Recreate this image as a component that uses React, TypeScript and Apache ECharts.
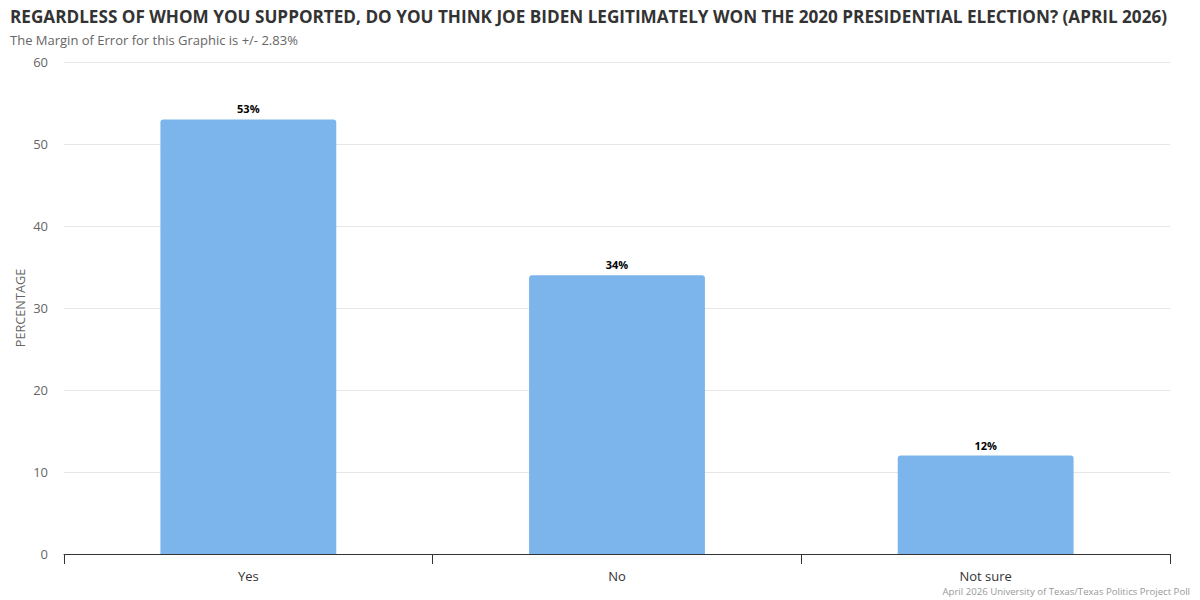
import React, { useEffect, useRef } from "react";
import * as echarts from "echarts";

const categories = ["Yes", "No", "Not sure"];
const values = [53, 34, 12];
const titleText = "REGARDLESS OF WHOM YOU SUPPORTED, DO YOU THINK JOE BIDEN LEGITIMATELY WON THE 2020 PRESIDENTIAL ELECTION? (APRIL 2026)";
const subtitleText = "The Margin of Error for this Graphic is +/- 2.83%";
const creditText = "April 2026 University of Texas/Texas Politics Project Poll";
const yAxisName = "PERCENTAGE";

const FONT = "'Open Sans', 'Noto Sans', sans-serif";

export default function App() {
  const ref = useRef<HTMLDivElement>(null);
  useEffect(() => {
    if (!ref.current) return;
    const chart = echarts.init(ref.current, undefined, { renderer: "svg" });
    chart.setOption({
      animation: false,
      backgroundColor: "#ffffff",
      textStyle: { fontFamily: FONT },
      title: [
        {
          text: titleText,
          subtext: subtitleText,
          left: 10,
          top: 8,
          padding: [0, 0, 0, 0],
          itemGap: 8,
          textStyle: { fontFamily: FONT, fontSize: 17.15, fontWeight: "bold", color: "#333333" },
          subtextStyle: { fontFamily: FONT, fontSize: 13, color: "#666666" },
        },
        {
          text: creditText,
          right: 10,
          bottom: 4,
          padding: [0, 0, 0, 0],
          textStyle: { fontFamily: FONT, fontSize: 9.6, fontWeight: "normal", color: "#999999" },
        },
      ],
      grid: { left: 64, right: 30, top: 62, bottom: 46, containLabel: false },
      xAxis: {
        type: "category",
        data: categories,
        axisLine: { lineStyle: { color: "#333333", width: 1 } },
        axisTick: { show: true, length: 10, lineStyle: { color: "#333333" } },
        axisLabel: { fontFamily: FONT, fontSize: 13, color: "#333333", margin: 15 },
      },
      yAxis: {
        type: "value",
        min: 0,
        max: 60,
        interval: 10,
        name: yAxisName,
        nameLocation: "middle",
        nameGap: 38,
        nameMoveOverlap: false,
        nameTextStyle: { fontFamily: FONT, fontSize: 12.7, color: "#666666" },
        axisLine: { show: false },
        axisTick: { show: false },
        axisLabel: { fontFamily: FONT, fontSize: 13, color: "#666666", margin: 16 },
        splitLine: { lineStyle: { color: "#e6e6e6", width: 1 } },
      },
      series: [
        {
          type: "bar",
          data: values,
          barWidth: "47.7%",
          itemStyle: { color: "#7cb5ec", borderRadius: [3, 3, 0, 0] },
          label: {
            show: true,
            position: "top",
            distance: 5,
            formatter: "{c}%",
            fontFamily: FONT,
            fontSize: 11,
            fontWeight: "bold",
            color: "#000000",
          },
        },
      ],
    });
    return () => chart.dispose();
  }, []);
  return (
    <div
      ref={ref}
      style={{ position: "absolute", left: 0, top: 0, width: 1200, height: 600 }}
    />
  );
}
